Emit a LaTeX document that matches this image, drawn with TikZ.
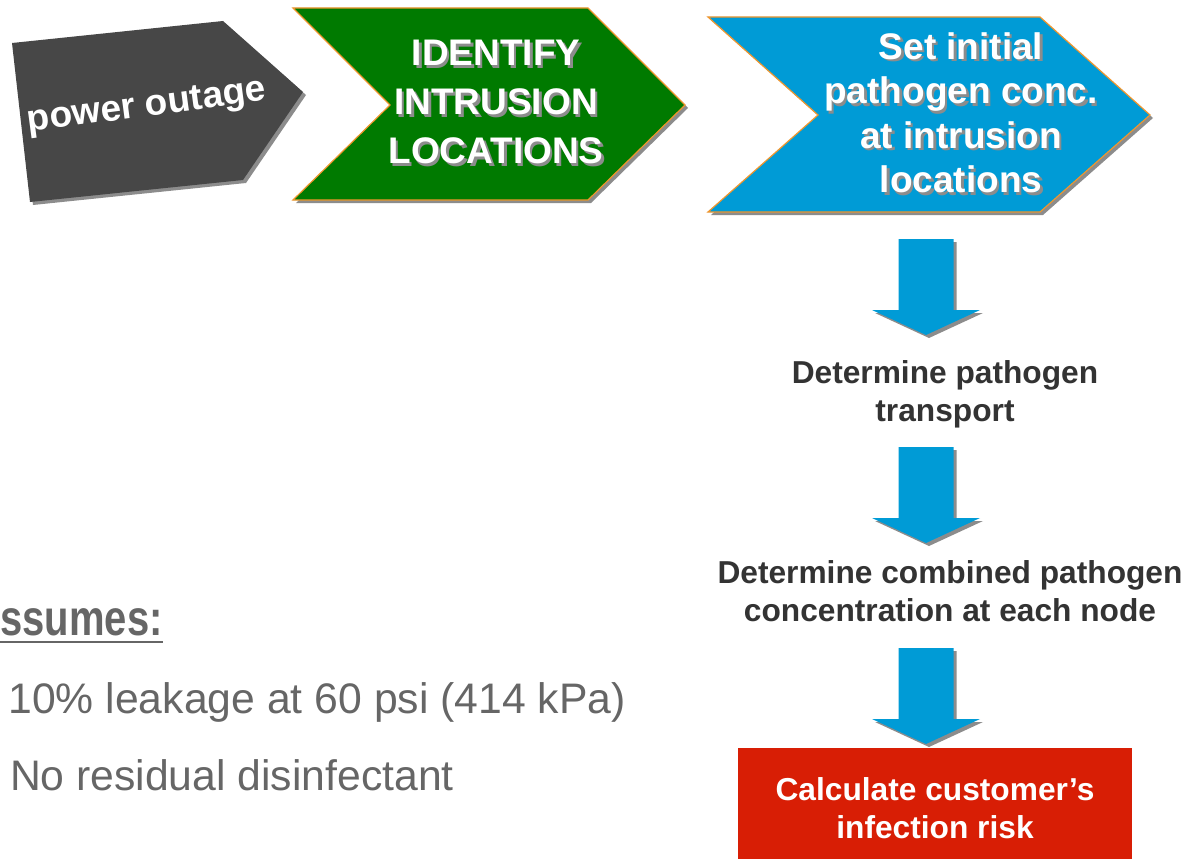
\documentclass[tikz,border=0pt]{standalone}
\usepackage{fontspec}
\setmainfont{Liberation Sans}
\usepackage{graphicx}
\definecolor{darkbox}{HTML}{474747}
\definecolor{greenbox}{HTML}{007A00}
\definecolor{bluebox}{HTML}{009BD6}
\definecolor{redbox}{HTML}{D81E05}
\definecolor{edgeorange}{HTML}{F0962D}
\definecolor{shadowgray}{HTML}{8C8C8C}
\definecolor{textdark}{HTML}{333333}
\definecolor{textgray}{HTML}{666666}
\newcommand{\shtxt}[1]{\leavevmode\rlap{\kern2.5pt\raisebox{-2.5pt}{\textcolor{shadowgray}{#1}}}#1}
\newcommand{\ulbox}[1]{\setbox0\hbox{#1}\rlap{\rule[-8.2pt]{\wd0}{2.5pt}}\box0}
\tikzset{
  chevtext/.style={text=white, font=\bfseries\fontsize{37}{44.5}\selectfont, align=center, inner sep=0pt, anchor=north},
  steptext/.style={text=textdark, font=\bfseries\fontsize{31.7}{37.5}\selectfont, align=center, inner sep=0pt, anchor=north},
  notetext/.style={text=textgray, font=\fontsize{42.7}{50}\selectfont, inner sep=0pt, anchor=base west},
  pics/downarrow/.style={code={
    \fill[shadowgray] (-24.5,3) -- (30.5,3) -- (30.5,74) -- (57,74) -- (3,99) -- (-51,74) -- (-24.5,74) -- cycle;
    \fill[bluebox] (-27.5,0) -- (27.5,0) -- (27.5,71) -- (54,71) -- (0,96) -- (-54,71) -- (-27.5,71) -- cycle;
  }}
}
\begin{document}
\begin{tikzpicture}[x=1pt,y=-1pt]
\clip (0,0) rectangle (1187,859);
\fill[white] (0,0) rectangle (1187,859);
% power outage pentagon
\fill[shadowgray] (15,46) -- (226,24) -- (306,95) -- (246,183) -- (33,205) -- cycle;
\fill[darkbox] (12,43) -- (223,21) -- (303,92) -- (243,180) -- (30,202) -- cycle;
\node[rotate=7.5, anchor=base, text=white, inner sep=0pt, font=\bfseries\fontsize{37}{44}\selectfont] (outage) at (148,116) {power outage};
% identify chevron
\fill[shadowgray] (296,11) -- (591,11) -- (688,108) -- (591,203) -- (296,203) -- (393,108) -- cycle;
\filldraw[fill=greenbox, draw=edgeorange, line width=1.2pt] (293,8) -- (588,8) -- (685,105) -- (588,200) -- (293,200) -- (390,105) -- cycle;
\node[chevtext, font=\bfseries\fontsize{37}{49}\selectfont] (identify) at (496,40) {\shtxt{IDENTIFY}\\\shtxt{INTRUSION}\\\shtxt{LOCATIONS}};
% set initial chevron
\fill[shadowgray] (711,20) -- (1043,20) -- (1153,118) -- (1043,215) -- (711,215) -- (821,118) -- cycle;
\filldraw[fill=bluebox, draw=edgeorange, line width=1.2pt] (708,17) -- (1040,17) -- (1150,115) -- (1040,212) -- (708,212) -- (818,115) -- cycle;
\node[chevtext] (setconc) at (961,32) {\shtxt{Set initial}\\\shtxt{pathogen conc.}\\\shtxt{at intrusion}\\\shtxt{locations}};
% vertical flow
\pic at (926,239) {downarrow};
\node[steptext] (transport) at (945,360.5) {Determine pathogen\\transport};
\pic at (926,447) {downarrow};
\node[steptext] (combined) at (950,560.5) {Determine combined pathogen\\concentration at each node};
\pic at (926,648) {downarrow};
\node[fill=redbox, minimum width=394pt, minimum height=120pt, inner sep=0pt, text=white, align=center, font=\bfseries\fontsize{31.7}{38}\selectfont] (risk) at (935,808) {Calculate customer’s\\infection risk};
% assumptions
\node[text=textgray, inner sep=0pt, anchor=base east, font=\bfseries\fontsize{50}{56}\selectfont] (assumes) at (163,635) {\scalebox{0.8}[1]{\ulbox{Assumes:}}};
\node[notetext] (leak) at (8.3,713) {10\% leakage at 60 psi (414 kPa)};
\node[notetext] (resid) at (9.8,790) {No residual disinfectant};
\end{tikzpicture}
\end{document}
